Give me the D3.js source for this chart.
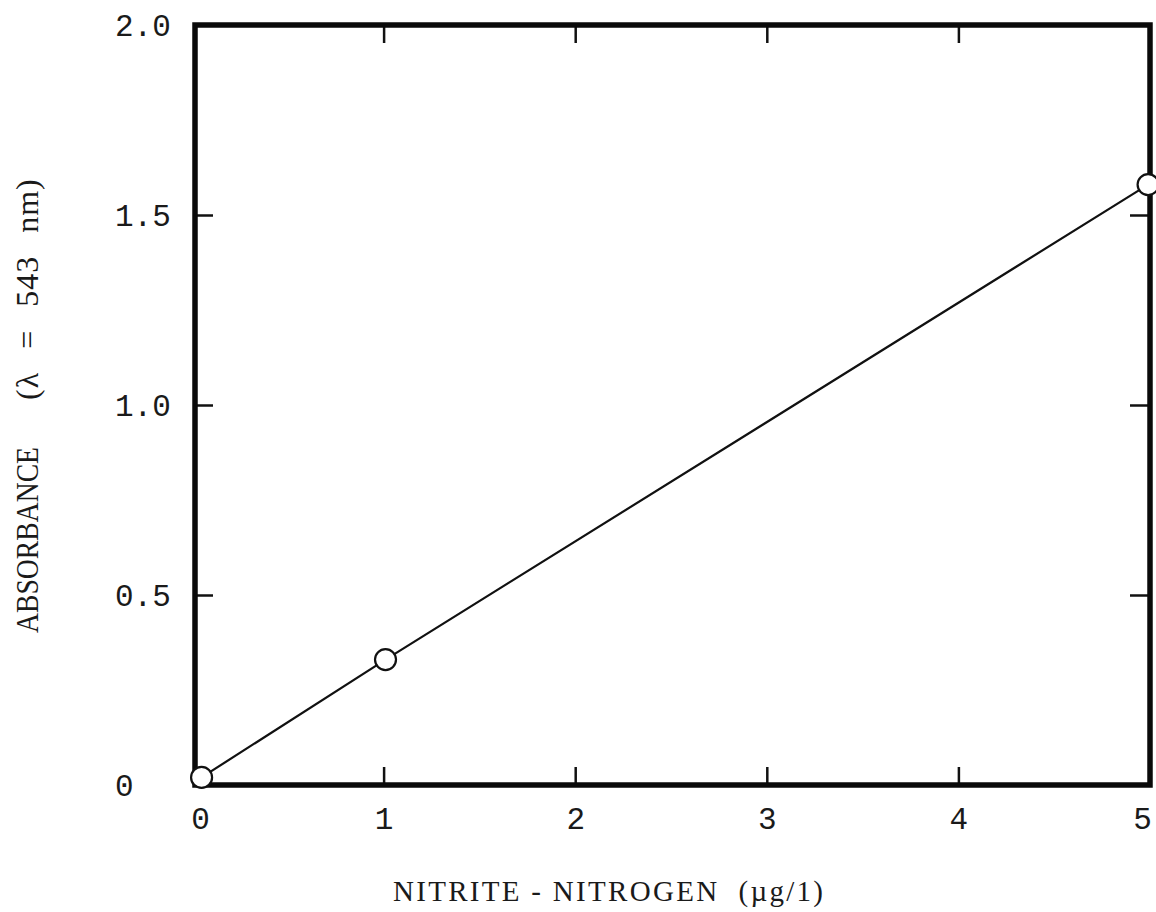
<html>
<head>
<script src="https://d3js.org/d3.v7.min.js"></script>
<style>
  body { margin: 0; background: #fff; }
  .tick text { font-family: "Liberation Mono", monospace; font-size: 31px; fill: #1a1a1a; }
  .tick line { stroke: #111; stroke-width: 2.5; }
</style>
</head>
<body>
<svg width="1156" height="912"></svg>
<script>
// values
const nitrite = [0.05, 1.01, 4.99];
const absorbance = [0.02, 0.33, 1.58];
const xTicks = [0, 1, 2, 3, 4, 5];
const yTicks = [0, 0.5, 1.0, 1.5, 2.0];
const yTickLabels = ["0", "0.5", "1.0", "1.5", "2.0"];

const svg = d3.select("svg");

var x = d3.scaleLinear().domain([0, 5]).range([192, 1150]);
var y = d3.scaleLinear().domain([0, 2]).range([785, 25]);
const fLeft = 195, fRight = x(5), fTop = y(2), fBottom = y(0);

// inward ticks, top and bottom
svg.append("g")
  .attr("transform", "translate(0," + fBottom + ")")
  .call(d3.axisBottom(x).tickValues(xTicks).tickSizeInner(-18).tickSizeOuter(0).tickPadding(22).tickFormat(d3.format("d")))
  .call(g => g.select(".domain").remove())
  .call(g => g.selectAll(".tick line").filter(d => d == 0 || d == 5).remove())
  .call(g => g.selectAll(".tick text").attr("dx", d => d == 0 ? 8 : (d == 5 ? -8 : 0)));

svg.append("g")
  .attr("transform", "translate(0," + fTop + ")")
  .call(d3.axisTop(x).tickValues([1, 2, 3, 4]).tickSizeInner(-18).tickSizeOuter(0).tickFormat(""))
  .call(g => g.select(".domain").remove());

svg.append("g")
  .attr("transform", "translate(" + fLeft + ",0)")
  .call(d3.axisLeft(y).tickValues(yTicks).tickSizeInner(-18).tickSizeOuter(0).tickFormat((d, i) => yTickLabels[i]))
  .call(g => g.select(".domain").remove())
  .call(g => g.selectAll(".tick line").filter(d => d == 0 || d == 2).remove())
  .call(g => g.selectAll(".tick text").attr("text-anchor", "start").attr("x", -80).attr("dy", "0.35em"));

svg.append("g")
  .attr("transform", "translate(" + fRight + ",0)")
  .call(d3.axisRight(y).tickValues([0.5, 1.0, 1.5]).tickSizeInner(-20).tickSizeOuter(0).tickFormat(""))
  .call(g => g.select(".domain").remove());

// heavy frame
svg.append("rect")
  .attr("x", fLeft).attr("y", fTop)
  .attr("width", fRight - fLeft).attr("height", fBottom - fTop)
  .attr("fill", "none").attr("stroke", "#0a0a0a").attr("stroke-width", 5.5);

const pts = nitrite.map((d, i) => ({x: d, y: absorbance[i]}));

svg.append("path")
  .datum(pts)
  .attr("fill", "none")
  .attr("stroke", "#111")
  .attr("stroke-width", 2.2)
  .attr("d", d3.line().x(d => x(d.x)).y(d => y(d.y)));

svg.append("g")
  .selectAll("circle")
  .data(pts)
  .enter()
  .append("circle")
  .attr("cx", d => x(d.x))
  .attr("cy", d => y(d.y))
  .attr("r", 10.5)
  .attr("fill", "#fff")
  .attr("stroke", "#111")
  .attr("stroke-width", 2.2);

// axis titles
svg.append("text")
  .attr("x", 393).attr("y", 901)
  .attr("textLength", 430)
  .attr("lengthAdjust", "spacing")
  .style("font-family", "'Liberation Serif', serif")
  .style("font-size", "29px")
  .style("fill", "#1a1a1a")
  .attr("xml:space", "preserve")
  .text("NITRITE - NITROGEN  (\u00b5g/1)");

const yTitle = svg.append("g")
  .attr("transform", "translate(38,0) rotate(-90)")
  .style("font-family", "'Liberation Serif', serif")
  .style("font-size", "32px")
  .style("fill", "#1a1a1a");

yTitle.append("text")
  .attr("x", -633).attr("y", 0)
  .attr("textLength", 186)
  .attr("lengthAdjust", "spacingAndGlyphs")
  .text("ABSORBANCE");

yTitle.append("text")
  .attr("x", -400).attr("y", 0)
  .style("word-spacing", "14px")
  .style("letter-spacing", "1px")
  .text("(\u03bb = 543 nm)");
</script>
</body>
</html>
